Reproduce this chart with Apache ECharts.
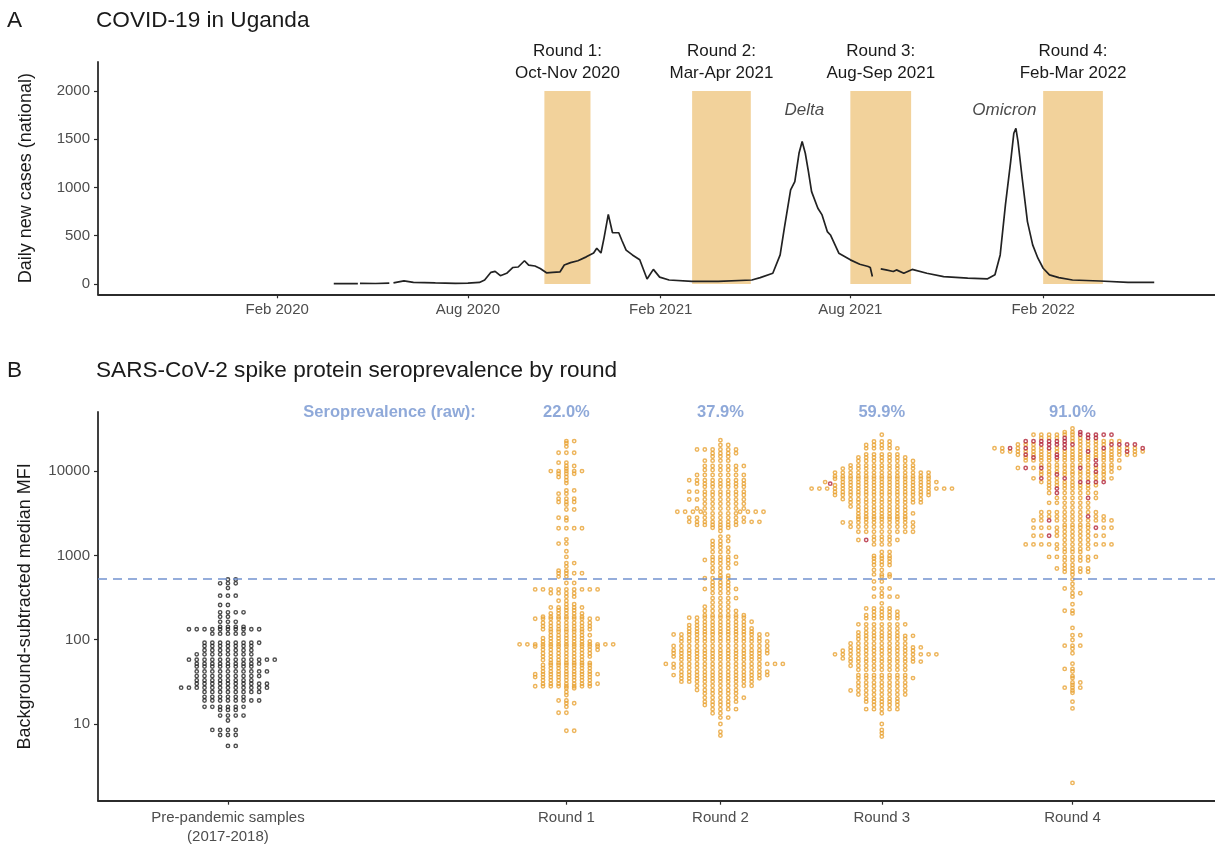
<!DOCTYPE html>
<html><head><meta charset="utf-8">
<script src="https://cdn.jsdelivr.net/npm/echarts@6/dist/echarts.min.js"></script>
<style>html,body{margin:0;padding:0;background:#fff}#c{width:1215px;height:844px}</style>
</head><body><div id="c"></div>
<script>
// ---------- Panel A data ----------
const caseDates = ['2020-03-26','2020-04-05','2020-04-18','2020-04-19','2020-04-20','2020-05-05','2020-05-18','2020-05-20','2020-05-22','2020-06-01','2020-06-10','2020-07-01','2020-07-20','2020-08-01','2020-08-12','2020-08-17','2020-08-23','2020-08-27','2020-09-01','2020-09-07','2020-09-13','2020-09-18','2020-09-24','2020-09-28','2020-10-04','2020-10-09','2020-10-15','2020-10-21','2020-10-28','2020-11-01','2020-11-07','2020-11-14','2020-11-22','2020-11-29','2020-12-02','2020-12-06','2020-12-09','2020-12-13','2020-12-17','2020-12-23','2020-12-26','2020-12-30','2021-01-05','2021-01-12','2021-01-19','2021-01-25','2021-01-31','2021-02-09','2021-03-03','2021-03-28','2021-04-29','2021-05-07','2021-05-19','2021-05-26','2021-05-30','2021-06-05','2021-06-09','2021-06-13','2021-06-16','2021-06-19','2021-06-22','2021-06-25','2021-07-01','2021-07-05','2021-07-10','2021-07-13','2021-07-21','2021-08-01','2021-08-10','2021-08-18','2021-08-20','2021-08-22','2021-08-26','2021-08-30','2021-09-04','2021-09-11','2021-09-14','2021-09-21','2021-09-29','2021-10-13','2021-10-29','2021-11-21','2021-12-10','2021-12-17','2021-12-22','2021-12-27','2022-01-01','2022-01-04','2022-01-06','2022-01-08','2022-01-12','2022-01-17','2022-01-22','2022-01-27','2022-02-01','2022-02-07','2022-02-16','2022-03-01','2022-03-27','2022-04-23','2022-05-18'];
const caseValues = [3,2,3,null,5,4,8,null,10,32,15,10,6,8,15,40,120,130,85,110,170,175,240,195,185,160,115,120,125,195,220,240,280,320,370,320,480,720,530,530,450,350,300,250,50,150,70,40,25,25,40,65,110,300,577,974,1060,1354,1475,1354,1164,956,784,715,542,507,318,249,204,180,170,76,null,155,145,128,145,110,150,110,76,60,52,94,300,819,1268,1561,1613,1475,1095,646,404,266,162,93,65,40,30,15,15];
const roundLabels = ['Round 1:\nOct-Nov 2020','Round 2:\nMar-Apr 2021','Round 3:\nAug-Sep 2021','Round 4:\nFeb-Mar 2022'];
const roundStarts = ['2020-10-13','2021-03-03','2021-08-01','2022-02-01'];
const roundEnds = ['2020-11-26','2021-04-28','2021-09-28','2022-03-30'];
const roundTop = 2000;
const variantNames = ['Delta','Omicron'];
const variantDates = ['2021-06-18','2021-12-26'];
const variantY = [1800,1800];
const caseTicks = [0,500,1000,1500,2000];
const dateTicks = ['2020-02-01','2020-08-01','2021-02-01','2021-08-01','2022-02-01'];
const axisStart = '2019-08-14', axisEnd = '2022-07-15';

// ---------- Panel B data ----------
const groupNames = ['Pre-pandemic samples\n(2017-2018)','Round 1','Round 2','Round 3','Round 4'];
const groupDates = ['2019-12-16','2020-11-03','2021-03-30','2021-08-31','2022-03-01'];
const seroHeader = 'Seroprevalence (raw):';
const seroHeaderDate = '2020-08-09';
const seroLabels = ['22.0%','37.9%','59.9%','91.0%'];
const threshold = 525;
const mfiTicks = [10,100,1000,10000];
// rows of the swarms: [MFI value, number of samples at that level]
const prePandemic = [[519,2],[466,3],[410,1],[333,3],[258,2],[211,4],[187,2],[163,3],[142,4],[133,10],[118,5],[92,8],[84,7],[75,7],[67,8],[58,12],[52,9],[48,8],[42,10],[37,9],[33,8],[30,10],[27,12],[24,8],[21,6],[19,8],[16,6],[14.7,3],[12.6,4],[11,1],[8.5,4],[7.4,3],[5.5,2]];
const round1 = [[22700,2],[21400,1],[19600,1],[16500,3],[12600,2],[11500,2],[10700,1],[10000,5],[9300,3],[8500,2],[7800,1],[7200,1],[5900,2],[5400,2],[4700,3],[4300,3],[4000,1],[3500,2],[2800,2],[2600,1],[2100,4],[1550,1],[1380,2],[1120,1],[960,1],[810,2],[740,1],[660,2],[615,4],[560,2],[470,2],[395,9],[355,4],[324,2],[290,2],[264,2],[241,5],[224,3],[205,5],[187,6],[177,9],[159,7],[145,7],[133,7],[124,5],[113,6],[104,6],[95,7],[88,13],[83,9],[76,8],[69,7],[63,7],[57.5,6],[53,6],[50,7],[46,7],[42,7],[39,9],[36,8],[33,7],[30,8],[28,8],[26.5,2],[24,1],[22,1],[19,2],[17.6,2],[16,1],[13.6,2],[8.3,2]];
const round2 = [[23300,1],[20400,2],[18000,6],[16300,4],[14900,3],[13300,4],[11500,6],[10300,5],[9000,7],[7800,8],[7100,7],[6500,6],[5700,8],[5200,6],[4600,8],[4100,6],[3600,7],[3300,8],[3150,5],[2800,8],[2500,10],[2300,6],[2130,3],[1950,1],[1670,2],[1480,3],[1350,2],[1230,3],[1100,3],[960,4],[880,4],[800,4],[710,3],[635,2],[575,2],[535,4],[480,3],[440,3],[400,5],[357,3],[311,4],[277,3],[246,4],[219,5],[195,6],[182,8],[163,8],[149,8],[136,9],[124,9],[115,13],[104,11],[95,12],[84,13],[75,13],[69,13],[63,12],[58,11],[51.6,16],[46.6,12],[41.7,12],[38,13],[34.8,11],[31.8,10],[28.4,8],[25.3,6],[23,5],[20.5,6],[18.4,5],[16.8,4],[15,4],[13.4,2],[11.9,2],[10,1],[8.1,1],[7.3,1]];
const round3 = [[27000,1],[22400,3],[20400,4],[18600,5],[15800,5],[14500,7],[13200,8],[11700,9],[10700,10],[9600,13],[8700,13],[8100,13],[7400,14],[6800,13],[6200,19],[5650,13],[5200,13],[4650,11],[4250,10],[3800,8],[3450,7],[3150,8],[2870,7],[2700,7],[2460,10],[2190,9],[1910,8],[1670,3],[1520,5],[1350,3],[1100,2],[985,3],[920,3],[840,3],[770,3],[670,2],[595,3],[560,2],[490,2],[405,3],[356,1],[324,4],[270,1],[234,4],[215,4],[195,5],[179,5],[152,7],[136,5],[122,6],[111,8],[102,7],[90,8],[81,10],[74,10],[67,14],[60,10],[55,10],[49,8],[44,7],[38,7],[35,8],[31,7],[28,7],[25,8],[22.4,7],[20,5],[18.4,5],[16.8,4],[15,5],[13.4,1],[10,1],[8.5,1],[7.8,1],[7.1,1]];
const round3Red = [[7100,1],[1520,1]];
const round4 = [[32000,1],[29000,2],[27000,6],[24700,5],[22600,7],[20700,7],[18700,14],[17100,17],[15600,14],[14500,10],[13400,12],[11800,9],[10900,11],[9800,9],[9100,8],[8200,9],[7400,5],[6800,7],[6200,5],[5500,6],[4800,5],[4200,6],[3700,4],[3250,8],[2900,8],[2600,10],[2300,4],[2130,10],[1910,5],[1710,9],[1520,4],[1350,12],[1200,5],[1100,3],[960,7],[870,4],[770,2],[700,5],[640,4],[590,1],[520,1],[457,1],[405,2],[356,2],[324,1],[263,1],[220,2],[205,1],[138,1],[113,2],[99,1],[85,3],[78,1],[69,1],[52,1],[45,2],[42,1],[37,1],[35,1],[31,2],[29,1],[27,3],[25,1],[23.5,1],[18.4,1],[15.3,1],[2,1]];
const round4Red = [[29000,1],[27000,5],[24700,3],[22600,6],[20700,9],[18700,6],[17100,2],[15600,2],[14500,2],[13400,1],[11800,1],[10900,3],[9800,1],[9100,1],[8200,2],[7400,4],[6200,1],[5500,1],[4800,1],[2900,1],[2600,1],[2130,1],[1710,1]];

// ---------- helpers ----------
function t(s){const p=s.split('-').map(Number);return new Date(p[0],p[1]-1,p[2]).getTime();}
const MON=['Jan','Feb','Mar','Apr','May','Jun','Jul','Aug','Sep','Oct','Nov','Dec'];
const FONT='"Liberation Sans", Arial, Helvetica, sans-serif';
const INK='#1a1a1a', TICKTXT='#4d4d4d', AXIS='#2b2b2b', BLUE='#7393D0';
const ORANGE='#E9A233', RED='#B3263A', BLACK='#222222', RECT='#F2D29B';
const xMin=t(axisStart), xMax=t(axisEnd);
const dateTickTs = dateTicks.map(t);
const groupTs = groupDates.map(t);

const lineData = caseDates.map((d,i)=>[t(d), caseValues[i]===null?'-':caseValues[i]]);
const areaData = roundLabels.map((lab,i)=>[{name:lab,xAxis:t(roundStarts[i]),yAxis:0},{xAxis:t(roundEnds[i]),yAxis:roundTop}]);
const yMinB = 0.09, yMaxB = 4.701;

const titleStyle={fontSize:22.6,fontWeight:'normal',color:INK,fontFamily:FONT};
const ring=(c,w)=>({color:'rgba(0,0,0,0)',borderColor:c,borderWidth:w});
const option = {
  animation:false,
  textStyle:{fontFamily:FONT},
  title:[
    {text:'A',left:7,top:9,padding:0,textStyle:titleStyle},
    {text:'COVID-19 in Uganda',left:96,top:9,padding:0,textStyle:titleStyle},
    {text:'B',left:7,top:359,padding:0,textStyle:titleStyle},
    {text:'SARS-CoV-2 spike protein seroprevalence by round',left:96,top:359,padding:0,textStyle:titleStyle}
  ],
  grid:[
    {left:98,top:62,height:232.3,right:0,outerBoundsMode:'none'},
    {left:98,top:412,height:388.7,right:0,outerBoundsMode:'none'}
  ],
  xAxis:[
    {gridIndex:0,type:'value',min:xMin,max:xMax,scale:true,
     axisLine:{onZero:false,lineStyle:{color:AXIS,width:1.8}},
     axisTick:{customValues:dateTickTs,length:4,lineStyle:{color:AXIS,width:1.2}},
     axisLabel:{customValues:dateTickTs,hideOverlap:false,color:TICKTXT,fontSize:15,margin:8,
       formatter:v=>{const d=new Date(v);return MON[d.getMonth()]+' '+d.getFullYear();}},
     splitLine:{show:false}},
    {gridIndex:1,type:'value',min:xMin,max:xMax,scale:true,
     axisLine:{onZero:false,lineStyle:{color:AXIS,width:1.8}},
     axisTick:{customValues:groupTs,length:4,lineStyle:{color:AXIS,width:1.2}},
     axisLabel:{customValues:groupTs,hideOverlap:false,color:TICKTXT,fontSize:15,lineHeight:19,margin:8,
       formatter:v=>{let b=0;groupTs.forEach((g,i)=>{if(Math.abs(g-v)<Math.abs(groupTs[b]-v))b=i;});return groupNames[b];}},
     splitLine:{show:false}}
  ],
  yAxis:[
    {gridIndex:0,type:'value',min:-108,max:2300,
     name:'Daily new cases (national)',nameLocation:'middle',nameGap:63,
     nameTextStyle:{fontSize:18,color:INK,fontFamily:FONT},
     axisLine:{show:true,onZero:false,lineStyle:{color:AXIS,width:1.8}},
     axisTick:{show:true,customValues:caseTicks,length:4,lineStyle:{color:AXIS,width:1.2}},
     axisLabel:{customValues:caseTicks,color:TICKTXT,fontSize:15,margin:8,formatter:v=>String(v)},
     splitLine:{show:false}},
    {gridIndex:1,type:'value',min:yMinB,max:yMaxB,
     name:'Background-subtracted median MFI',nameLocation:'middle',nameGap:64,
     nameTextStyle:{fontSize:18,color:INK,fontFamily:FONT},
     axisLine:{show:true,onZero:false,lineStyle:{color:AXIS,width:1.8}},
     axisTick:{show:true,customValues:mfiTicks.map(Math.log10),length:4,lineStyle:{color:AXIS,width:1.2}},
     axisLabel:{customValues:mfiTicks.map(Math.log10),color:TICKTXT,fontSize:15,margin:8,
       formatter:v=>String(Math.round(Math.pow(10,v)))},
     splitLine:{show:false}}
  ],
  series:[
    {id:'rounds',type:'line',xAxisIndex:0,yAxisIndex:0,data:[],z:1,silent:true,
     markArea:{silent:true,itemStyle:{color:RECT,opacity:1},
       label:{show:true,position:'top',distance:7,color:INK,fontSize:17,lineHeight:22,fontFamily:FONT},
       data:areaData}},
    {id:'cases',type:'line',xAxisIndex:0,yAxisIndex:0,data:lineData,showSymbol:false,symbol:'none',
     connectNulls:false,z:3,lineStyle:{color:BLACK,width:1.7}},
    {id:'variants',type:'scatter',xAxisIndex:0,yAxisIndex:0,symbolSize:1,clip:false,z:4,silent:true,
     itemStyle:{color:'rgba(0,0,0,0)'},
     label:{show:true,position:'inside',formatter:p=>variantNames[p.dataIndex],color:INK,fontSize:17,fontStyle:'italic',fontFamily:FONT},
     data:variantDates.map((d,i)=>[t(d),variantY[i]])},
    {id:'pre',type:'scatter',xAxisIndex:1,yAxisIndex:1,data:[],symbol:'circle',symbolSize:3.4,z:3,
     itemStyle:ring(BLACK,1.4),
     markLine:{silent:true,symbol:['none','none'],label:{show:false},
       lineStyle:{type:[9,6],color:BLUE,width:1.6},data:[{yAxis:Math.log10(threshold)}]}},
    {id:'orange',type:'scatter',xAxisIndex:1,yAxisIndex:1,data:[],symbol:'circle',symbolSize:3.4,z:3,
     itemStyle:ring(ORANGE,1.5)},
    {id:'red',type:'scatter',xAxisIndex:1,yAxisIndex:1,data:[],symbol:'circle',symbolSize:3.4,z:4,
     itemStyle:ring(RED,1.5)},
    {id:'seroHead',type:'scatter',xAxisIndex:1,yAxisIndex:1,symbolSize:1,clip:false,silent:true,z:5,
     itemStyle:{color:'rgba(0,0,0,0)'},
     label:{show:true,position:'left',distance:0,formatter:seroHeader,color:BLUE,fontSize:16.5,fontWeight:'bold',fontFamily:FONT},
     data:[[t(seroHeaderDate),yMaxB]]},
    {id:'seroPct',type:'scatter',xAxisIndex:1,yAxisIndex:1,symbolSize:1,clip:false,silent:true,z:5,
     itemStyle:{color:'rgba(0,0,0,0)'},
     label:{show:true,position:'inside',formatter:p=>seroLabels[p.dataIndex],color:BLUE,fontSize:16.5,fontWeight:'bold',fontFamily:FONT},
     data:seroLabels.map((s,i)=>[groupTs[i+1],yMaxB])}
  ]
};

const chart = echarts.init(document.getElementById('c'),null,{renderer:'canvas'});
chart.setOption(option);

// ---------- beeswarm layout in pixel space ----------
const DX=7.8, DY=2.0;
function expandRows(orange, red){
  const m=new Map();
  orange.forEach(([v,n])=>{const e=m.get(v)||{o:0,r:0};e.o+=n;m.set(v,e);});
  (red||[]).forEach(([v,n])=>{const e=m.get(v)||{o:0,r:0};e.r+=n;m.set(v,e);});
  const pts=[];
  for(const [v,e] of m){
    const n=e.o+e.r, ri=new Set();
    for(let k=0;k<e.r;k++) ri.add(Math.min(n-1,Math.floor((k+0.5)*n/e.r)));
    for(let i=0;i<n;i++) pts.push({v,red:ri.has(i)});
  }
  return pts;
}
function swarm(pts){
  const order=pts.map((p,i)=>i).sort((a,b)=>pts[b].py-pts[a].py);
  const placed=[]; let flip=1;
  for(const i of order){
    const y=pts[i].py;
    const near=placed.filter(q=>Math.abs(q.y-y)<DY);
    const cands=[0];
    near.forEach(q=>{const d=(q.y-y)/DY;const w=DX*Math.sqrt(Math.max(0,1-d*d));cands.push(q.x+w,q.x-w);});
    cands.sort((a,b)=>(Math.abs(a)-Math.abs(b))||(flip*(b-a)));
    let best=0;
    for(const c of cands){
      if(near.every(q=>{const a=(q.x-c)/DX,b=(q.y-y)/DY;return a*a+b*b>=0.995;})){best=c;break;}
    }
    if(best!==0) flip=-flip;
    placed.push({x:best,y}); pts[i].dx=best;
  }
}
const groups=[
  {rows:prePandemic,red:[],kind:'pre'},
  {rows:round1,red:[]},
  {rows:round2,red:[]},
  {rows:round3,red:round3Red},
  {rows:round4,red:round4Red}
];
const preData=[], orangeData=[], redData=[];
const AX={xAxisIndex:1,yAxisIndex:1};
groups.forEach((g,gi)=>{
  const pts=expandRows(g.rows,g.red);
  pts.forEach(p=>{const px=chart.convertToPixel(AX,[groupTs[gi],Math.log10(p.v)]);p.cx=px[0];p.py=px[1];});
  swarm(pts);
  pts.forEach(p=>{
    const d=chart.convertFromPixel(AX,[p.cx+p.dx,p.py]);
    const item=[d[0],Math.log10(p.v)];
    if(g.kind==='pre') preData.push(item); else if(p.red) redData.push(item); else orangeData.push(item);
  });
});
chart.setOption({series:[{id:'pre',data:preData},{id:'orange',data:orangeData},{id:'red',data:redData}]});
</script></body></html>
